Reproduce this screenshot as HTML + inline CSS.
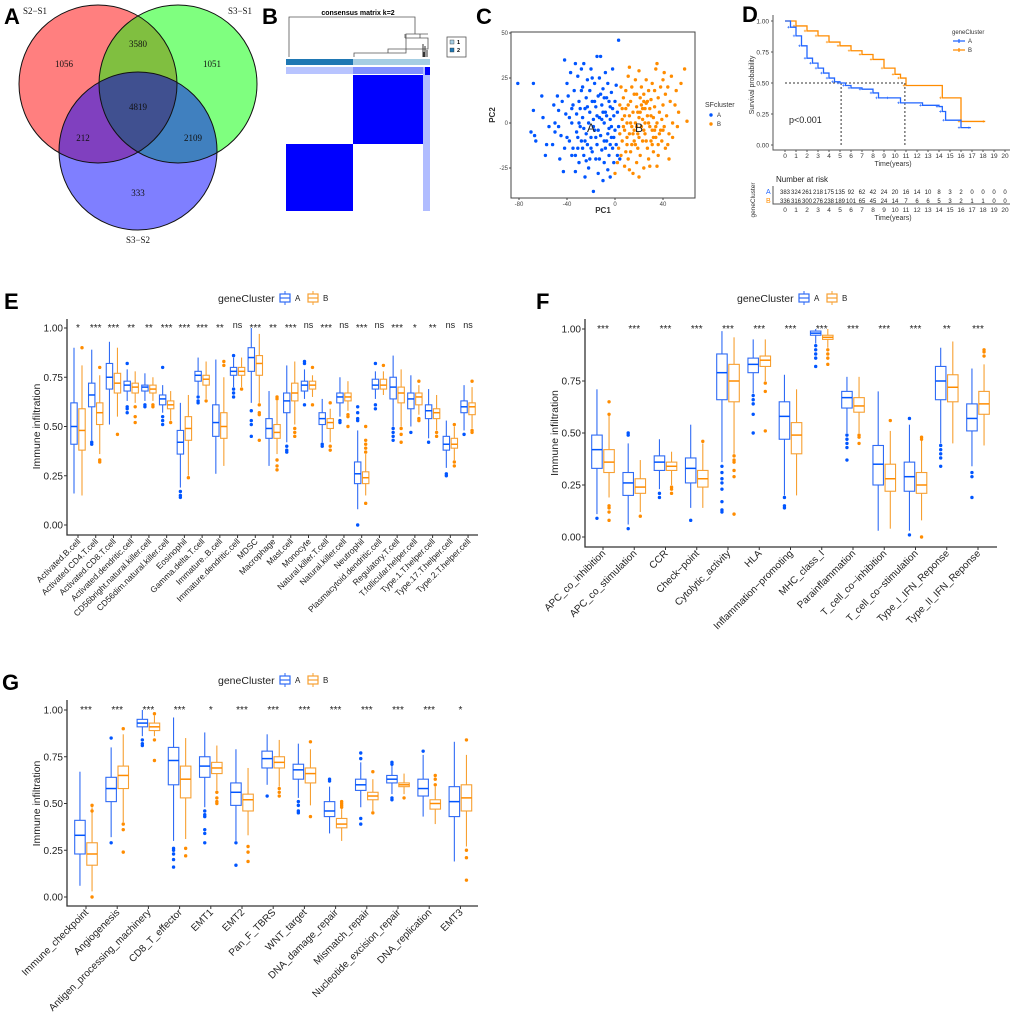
<!DOCTYPE html>
<html><head><meta charset="utf-8"><style>
html,body{margin:0;padding:0;background:#fff}
svg{display:block;font-family:"Liberation Sans",Arial,sans-serif}
</style></head><body>
<svg id="fig" width="1020" height="1020" viewBox="0 0 1020 1020" xmlns="http://www.w3.org/2000/svg">
<defs>
<clipPath id="cR"><circle cx="98" cy="84" r="79"/></clipPath>
<clipPath id="cG"><circle cx="178" cy="84" r="79"/></clipPath>
</defs>
<g>
<circle cx="98" cy="84" r="79" fill="#ff7f7f"/>
<circle cx="178" cy="84" r="79" fill="#7fff7f"/>
<circle cx="138" cy="151" r="79" fill="#7f7fff"/>
<g clip-path="url(#cR)"><circle cx="178" cy="84" r="79" fill="#80bf40"/>
<circle cx="138" cy="151" r="79" fill="#8040bf"/></g>
<g clip-path="url(#cG)"><circle cx="138" cy="151" r="79" fill="#4080bf"/></g>
<g clip-path="url(#cR)"><g clip-path="url(#cG)"><circle cx="138" cy="151" r="79" fill="#405090"/></g></g>
<circle cx="98" cy="84" r="79" fill="none" stroke="#111" stroke-width="1"/>
<circle cx="178" cy="84" r="79" fill="none" stroke="#111" stroke-width="1"/>
<circle cx="138" cy="151" r="79" fill="none" stroke="#111" stroke-width="1"/>
<g font-family="Liberation Serif,serif" font-size="9" text-anchor="middle" fill="#111">
<text x="35" y="14">S2−S1</text>
<text x="240" y="14">S3−S1</text>
<text x="138" y="243">S3−S2</text>
<text x="64" y="67">1056</text>
<text x="138" y="47">3580</text>
<text x="212" y="67">1051</text>
<text x="138" y="110">4819</text>
<text x="83" y="141">212</text>
<text x="193" y="141">2109</text>
<text x="138" y="196">333</text>
</g>
</g>
<g font-weight="bold" font-size="22" fill="#000">
<text x="4" y="24">A</text>
<text x="262" y="24">B</text>
<text x="476" y="24">C</text>
<text x="742" y="22">D</text>
<text x="4" y="309">E</text>
<text x="536" y="309">F</text>
<text x="2" y="690">G</text>
</g>
<g>
<text x="358" y="15" font-size="7" font-weight="bold" text-anchor="middle">consensus matrix k=2</text>
<path d="M289 57V17H415V34M354 57V53H406V34H428M388 53V49H428V38H405M420 38V34M405 34V38" fill="none" stroke="#555" stroke-width="0.8"/>
<path d="M423 57V44M425 57V46M427 57V50M424 57V52" stroke="#333" stroke-width="1"/>
<rect x="286" y="59" width="67" height="6" fill="#1f78b4"/>
<rect x="353" y="59" width="77" height="6" fill="#a6cee3"/>
<rect x="286" y="67" width="144" height="7" fill="#b8c4ff"/>
<rect x="353" y="67" width="70" height="7" fill="#8090ff"/>
<rect x="353" y="75" width="70" height="69" fill="#0000ff"/>
<rect x="286" y="144" width="67" height="67" fill="#0000ff"/>
<rect x="423" y="67" width="7" height="144" fill="#b0bcff"/>
<rect x="425" y="67" width="5" height="8" fill="#0000ff"/>
<rect x="447" y="37" width="19" height="20" fill="#fff" stroke="#555" stroke-width="0.8"/>
<rect x="450" y="40" width="4" height="4" fill="#a6cee3" stroke="#333" stroke-width="0.4"/>
<text x="457" y="44" font-size="5.5" font-weight="bold">1</text>
<rect x="450" y="48" width="4" height="4" fill="#1f78b4" stroke="#333" stroke-width="0.4"/>
<text x="457" y="52" font-size="5.5" font-weight="bold">2</text>
</g>
<g id="pca"></g>
<g id="km"></g>
<g id="panelE"></g>
<g id="panelF"></g>
<g id="panelG"></g>
</svg>
<script>
const NS="http://www.w3.org/2000/svg";
const CA="#2f6bf5", CB="#f7a032", DA="#0055ff", DB="#ff8c00";
function mk(parent,tag,attrs,txt){const e=document.createElementNS(NS,tag);for(const k in attrs)e.setAttribute(k,attrs[k]);if(txt!==undefined)e.textContent=txt;parent.appendChild(e);return e;}

const pcaA=[[-81,22],[-68,22],[-70,-5],[-68,7],[-67,-7],[-66,-10],[-61,15],[-60,3],[-58,-18],[-57,-12],[-55,-2],[-52,-12],[-51,10],[-50,-5],[-48,15],[-47,-2],[-47,7],[-46,-20],[-44,12],[-43,-27],[-42,35],[-41,5],[-40,-8],[-40,22],[-39,15],[-38,-10],[-37,28],[-36,0],[-36,-18],[-35,10],[-34,18],[-33,33],[-33,-27],[-32,-5],[-32,5],[-31,26],[-31,-14],[-30,-22],[-30,12],[-29,-2],[-28,30],[-28,-10],[-27,20],[-27,3],[-26,33],[-26,-18],[-25,-30],[-25,8],[-24,14],[-24,-6],[-23,24],[-23,-12],[-22,0],[-22,-25],[-21,18],[-21,6],[-20,-8],[-20,30],[-19,-16],[-19,12],[-18,-38],[-18,2],[-17,22],[-17,-4],[-16,-20],[-16,9],[-15,37],[-15,-12],[-14,15],[-14,-28],[-13,3],[-13,25],[-12,-7],[-12,37],[-11,-15],[-11,10],[-10,-32],[-10,19],[-9,0],[-9,-22],[-8,28],[-8,6],[-7,-10],[-7,14],[-6,-26],[-6,22],[-5,-3],[-5,-18],[-4,9],[-4,-30],[-3,17],[-3,-8],[-2,30],[-2,-14],[-1,4],[-1,-22],[0,12],[0,-4],[1,-12],[1,21],[2,-18],[2,6],[3,46],[3,-2],[4,-20],[-45,-7],[-38,3],[-35,-14],[-29,8],[-26,-3],[-23,9],[-20,-14],[-18,-2],[-15,4],[-13,-20],[-11,2],[-9,-10],[-7,4],[-5,12],[-3,-2],[-1,-8],[-33,-18],[-28,18],[-24,-21],[-19,25],[-16,-8],[-12,16],[-8,-14],[-6,-6],[-4,2],[-2,8],[-30,0],[-42,-14],[-50,0],[-36,8],[-25,-10],[-21,-20],[-14,-4],[-10,6],[-17,12],[-27,-14],[-31,-8],[-9,14],[-4,-12]];
const pcaB=[[0,-28],[2,-22],[3,-14],[4,-6],[4,10],[5,20],[5,-18],[6,2],[6,-10],[7,14],[8,-4],[8,-24],[9,8],[9,18],[10,-12],[10,0],[11,-20],[11,26],[12,4],[12,-6],[12,31],[13,-16],[13,12],[14,-2],[14,20],[15,-28],[15,6],[16,-10],[16,16],[17,24],[17,0],[18,-22],[18,9],[19,-6],[19,-14],[20,29],[20,3],[21,14],[21,-18],[22,-2],[22,20],[23,8],[23,-10],[24,-25],[24,16],[25,0],[25,-6],[26,11],[26,24],[27,-14],[27,4],[28,-20],[28,18],[29,-2],[29,8],[30,13],[30,-10],[31,22],[31,-4],[32,3],[32,-16],[33,9],[33,18],[34,-8],[34,30],[35,0],[35,-24],[36,14],[36,-12],[37,6],[38,20],[38,-4],[39,-10],[40,10],[40,24],[41,-2],[42,16],[42,-14],[43,4],[44,20],[45,-6],[45,-20],[46,12],[47,26],[48,0],[48,-8],[50,10],[51,18],[52,-2],[53,6],[55,22],[58,30],[60,1],[14,-12],[19,6],[24,-4],[11,10],[16,-4],[20,-8],[27,12],[30,4],[34,-2],[22,10],[8,4],[13,0],[25,8],[18,16],[31,-12],[37,-6],[28,0],[21,6],[17,-12],[10,-8],[6,8],[15,-6],[23,2],[33,-4],[26,-10],[39,2],[44,-12],[36,-18],[29,-24],[12,-26],[20,-30],[35,33],[41,28],[7,-2],[18,-2],[24,12],[32,-8],[40,-4],[9,-16]];
const pcaXTicks=[-80,-40,0,40];
const pcaYTicks=[-25,0,25,50];

const kmTimeA=[0,0.5,1,1.5,2,2.5,3,3.5,4,4.5,5,5.5,6,7,8,8.5,9.5,10.5,12.5,14,14.3,14.6,16,16.9];
const kmSurvA=[1,0.95,0.88,0.8,0.7,0.66,0.62,0.58,0.54,0.51,0.5,0.48,0.46,0.45,0.42,0.38,0.38,0.34,0.32,0.31,0.27,0.2,0.14,0.14];
const kmTimeB=[0,1,2,3,4,5,6,7,8,9,10,10.5,11,14.3,16,18.2];
const kmSurvB=[1,0.96,0.92,0.88,0.83,0.8,0.76,0.73,0.69,0.62,0.57,0.54,0.48,0.38,0.19,0.19];
const riskA=[383,324,261,218,175,135,92,62,42,24,20,16,14,10,8,3,2,0,0,0,0];
const riskB=[336,316,300,276,238,189,101,65,45,24,14,7,6,6,5,3,2,1,1,0,0];
const kmYTicks=[0,0.25,0.5,0.75,1];

const eCats=["Activated.B.cell","Activated.CD4.T.cell","Activated.CD8.T.cell","Activated.dendritic.cell","CD56bright.natural.killer.cell","CD56dim.natural.killer.cell","Eosinophil","Gamma.delta.T.cell","Immature..B.cell","Immature.dendritic.cell","MDSC","Macrophage","Mast.cell","Monocyte","Natural.killer.T.cell","Natural.killer.cell","Neutrophil","Plasmacytoid.dendritic.cell","Regulatory.T.cell","T.follicular.helper.cell","Type.1.T.helper.cell","Type.17.T.helper.cell","Type.2.T.helper.cell"];
const eSig=["*","***","***","**","**","***","***","***","**","ns","***","**","***","ns","***","ns","***","ns","***","*","**","ns","ns"];
const eStatsA=[[.16,.41,.50,.62,.90],[.43,.60,.66,.72,.89],[.51,.69,.75,.82,.93],[.63,.68,.71,.73,.79],[.63,.68,.70,.71,.77],[.57,.61,.64,.66,.71],[.19,.36,.42,.48,.62],[.66,.73,.76,.78,.85],[.26,.45,.52,.61,.84],[.70,.76,.78,.80,.85],[.62,.78,.85,.90,1.0],[.30,.44,.49,.54,.68],[.42,.57,.63,.67,.81],[.64,.68,.71,.73,.79],[.42,.51,.54,.57,.64],[.55,.62,.65,.67,.75],[.08,.21,.26,.32,.48],[.64,.69,.71,.74,.78],[.50,.64,.70,.75,.86],[.50,.59,.64,.67,.76],[.44,.54,.58,.61,.69],[.29,.38,.41,.45,.53],[.48,.57,.60,.63,.71]];
const eStatsB=[[.15,.38,.48,.59,.81],[.36,.51,.57,.62,.76],[.55,.67,.72,.77,.90],[.62,.67,.70,.72,.78],[.63,.67,.69,.71,.75],[.53,.59,.61,.63,.68],[.25,.43,.49,.55,.66],[.64,.71,.74,.76,.83],[.30,.44,.50,.57,.75],[.70,.76,.78,.80,.85],[.62,.76,.82,.86,.97],[.36,.44,.47,.51,.63],[.51,.63,.67,.72,.83],[.65,.69,.71,.73,.76],[.42,.49,.52,.54,.59],[.58,.63,.65,.67,.73],[.15,.21,.24,.27,.36],[.66,.69,.71,.74,.78],[.50,.62,.67,.70,.79],[.56,.61,.65,.67,.71],[.48,.54,.57,.59,.66],[.33,.39,.41,.44,.50],[.49,.56,.60,.62,.70]];
const eOutA=[[],[.41,.42],[],[.82,.60,.59,.57],[.61,.60],[.80,.55,.53,.51],[.17,.15,.14],[.65,.63,.62],[],[.86,.69,.67,.65],[.58,.53,.51,.45],[],[.40,.38,.37],[.83,.82,.61],[.41,.40],[.53,.52],[.60,.57,.54,.53,0],[.82,.61,.59],[.49,.47,.45,.43],[.47],[.42],[.26,.25],[.46]];
const eOutB=[[.90],[.80,.33,.32],[.46],[.60,.55,.52],[.61,.60],[.52],[.24],[.63],[.83,.81],[.69],[.61,.57,.56,.43],[.65,.64,.33,.30,.28],[.49,.47,.45],[.80,.61],[.62,.40,.38],[.56,.55,.50],[.50,.43,.41,.39,.37,.11],[.81],[.49,.46,.42],[.73,.54,.53],[.47,.45],[.51,.32,.30],[.73,.48,.47]];

const fCats=["APC_co_inhibition","APC_co_stimulation","CCR","Check−point","Cytolytic_activity","HLA","Inflammation−promoting","MHC_class_I","Parainflammation","T_cell_co−inhibition","T_cell_co−stimulation","Type_I_IFN_Reponse","Type_II_IFN_Reponse"];
const fSig=["***","***","***","***","***","***","***","***","***","***","***","**","***"];
const fStatsA=[[.11,.33,.42,.49,.71],[.06,.20,.26,.31,.45],[.23,.32,.36,.39,.47],[.14,.26,.33,.38,.54],[.36,.66,.79,.88,.99],[.69,.79,.83,.86,.95],[.20,.47,.58,.65,.78],[.93,.97,.98,.99,1.0],[.50,.62,.67,.70,.77],[.03,.25,.35,.44,.70],[.03,.22,.29,.36,.54],[.45,.66,.75,.82,.91],[.34,.51,.57,.64,.81]];
const fStatsB=[[.19,.31,.36,.42,.59],[.12,.21,.24,.28,.37],[.25,.32,.34,.36,.41],[.14,.24,.28,.32,.45],[.40,.65,.75,.83,.96],[.75,.82,.85,.87,.95],[.20,.40,.49,.55,.71],[.91,.95,.96,.97,1.0],[.50,.60,.63,.67,.77],[.04,.22,.28,.35,.51],[.08,.21,.25,.31,.47],[.45,.65,.72,.78,.94],[.44,.59,.64,.70,.83]];
const fOutA=[[.09],[.50,.49,.04],[.21,.19],[.08],[.34,.31,.28,.26,.23,.17,.13,.12],[.68,.66,.64,.59,.50],[.19,.15,.14],[.92,.90,.88,.86,.82],[.49,.47,.45,.43,.37],[],[.57,.01],[.44,.42,.40,.38,.34],[.31,.29,.19]];
const fOutB=[[.65,.59,.15,.14,.12,.08],[.10],[.24,.23,.21],[.46],[.39,.37,.36,.32,.29,.11],[.74,.70,.51],[],[.90,.88,.86,.83],[.49,.48,.45],[.56],[.48,.47,0],[],[.90,.89,.87]];

const gCats=["Immune_checkpoint","Angiogenesis","Antigen_processing_machinery","CD8_T_effector","EMT1","EMT2","Pan_F_TBRS","WNT_target","DNA_damage_repair","Mismatch_repair","Nucleotide_excision_repair","DNA_replication","EMT3"];
const gSig=["***","***","***","***","*","***","***","***","***","***","***","***","*"];
const gStatsA=[[.06,.23,.33,.41,.67],[.32,.51,.58,.64,.80],[.86,.91,.93,.95,1.0],[.30,.60,.73,.80,.96],[.48,.64,.70,.75,.88],[.30,.49,.56,.61,.79],[.60,.69,.74,.78,.87],[.53,.63,.68,.71,.82],[.34,.43,.46,.51,.59],[.48,.57,.60,.63,.72],[.55,.61,.63,.65,.71],[.43,.54,.58,.63,.76],[.19,.43,.51,.59,.83]];
const gStatsB=[[.03,.17,.23,.29,.48],[.40,.58,.65,.70,.87],[.86,.89,.91,.93,.97],[.31,.53,.63,.70,.85],[.57,.66,.69,.72,.81],[.33,.46,.52,.55,.69],[.59,.69,.72,.75,.84],[.49,.61,.66,.69,.79],[.30,.37,.39,.42,.47],[.46,.52,.54,.56,.63],[.55,.59,.60,.61,.66],[.39,.47,.50,.52,.59],[.27,.46,.53,.60,.76]];
const gOutA=[[],[.85,.29],[.84,.82,.81],[.26,.25,.23,.20,.16],[.46,.44,.43,.36,.34,.29],[.29,.17],[.54],[.51,.49,.46,.45],[.63,.62],[.77,.74,.42,.39],[.72,.71,.53,.52],[.78],[]];
const gOutB=[[.49,.46,0],[.90,.39,.36,.24],[.98,.84,.73],[.26,.22],[.56,.53,.51,.50],[.27,.24,.19],[.58,.56,.54],[.83,.43],[.51,.50,.49,.48],[.67,.45],[.53],[.65,.63,.60],[.84,.25,.21,.09]];
const boxYTicks=[0,0.25,0.5,0.75,1];

(function(){
  const g=document.getElementById('pca');
  const L=511,R=695,T=32,B=198;
  const sx=v=>615+v*1.2, sy=v=>123-v*1.8;
  const fr=mk(g,'rect',{x:L,y:T,width:R-L,height:B-T,fill:'#fff',stroke:'#444','stroke-width':1});
  
  
  pcaXTicks.forEach(v=>{mk(g,'line',{x1:sx(v),x2:sx(v),y1:B,y2:B+2,stroke:'#444'});
    const t=mk(g,'text',{x:sx(v),y:B+8,'font-size':6,'text-anchor':'middle',fill:'#444'},String(v));
    
    });
  pcaYTicks.forEach(v=>{mk(g,'line',{x1:L-2,x2:L,y1:sy(v),y2:sy(v),stroke:'#444'});
    const t=mk(g,'text',{x:L-3,y:sy(v)+2,'font-size':6,'text-anchor':'end',fill:'#444'},String(v));
    
    });
  const xt=mk(g,'text',{x:603,y:213,'font-size':8,'font-weight':'bold','text-anchor':'middle',fill:'#333'},'PC1');
  
  
  const yt=mk(g,'text',{x:0,y:0,'font-size':8,'font-weight':'bold','text-anchor':'middle',fill:'#333',transform:'translate(495,115) rotate(-90)'},'PC2');
  
  
  pcaA.forEach(p=>{const c=mk(g,'circle',{cx:sx(p[0]),cy:sy(p[1]),r:1.7,fill:DA});
    
    });
  pcaB.forEach(p=>{const c=mk(g,'circle',{cx:sx(p[0]),cy:sy(p[1]),r:1.7,fill:DB});
    
    });
  const la=mk(g,'text',{x:sx(-20),y:sy(-5),'font-size':12,'text-anchor':'middle',fill:'#222'},'A');
  
  
  const lb=mk(g,'text',{x:sx(20),y:sy(-5),'font-size':12,'text-anchor':'middle',fill:'#222'},'B');
  
  
  const lt=mk(g,'text',{x:705,y:107,'font-size':7,fill:'#333'},'SFcluster');
  
  
  [['A',DA,115],['B',DB,124]].forEach(e=>{mk(g,'circle',{cx:711,cy:e[2],r:1.7,fill:e[1]});
    const t=mk(g,'text',{x:717,y:e[2]+2,'font-size':6,fill:'#333'},e[0]);
    
    });
})();

(function(){
  const g=document.getElementById('km');
  const sx=t=>785+t*11, sy=v=>145-v*124;
  mk(g,'path',{d:'M773 15V150H1010',fill:'none',stroke:'#555','stroke-width':1});
  kmYTicks.forEach(v=>{mk(g,'line',{x1:771,x2:773,y1:sy(v),y2:sy(v),stroke:'#555'});
    const t=mk(g,'text',{x:769,y:sy(v)+2.3,'font-size':6.5,'text-anchor':'end',fill:'#333'},v.toFixed(2));
    
    });
  for(let i=0;i<=20;i++){mk(g,'line',{x1:sx(i),x2:sx(i),y1:150,y2:152,stroke:'#555'});
    const t=mk(g,'text',{x:sx(i),y:158,'font-size':6.5,'text-anchor':'middle',fill:'#333'},String(i));
    
    }
  const xt=mk(g,'text',{x:893,y:166,'font-size':7,'text-anchor':'middle',fill:'#333'},'Time(years)');
  
  
  const yt=mk(g,'text',{x:0,y:0,'font-size':7,'text-anchor':'middle',fill:'#333',transform:'translate(754,85) rotate(-90)'},'Survival probability');
  
  
  mk(g,'path',{d:`M${sx(0)} ${sy(.5)}H${sx(10.9)}M${sx(5.1)} ${sy(.5)}V${sy(0)}M${sx(10.9)} ${sy(.5)}V${sy(0)}`,stroke:'#333','stroke-dasharray':'2,2',fill:'none'});
  function step(ts,vs,col,name){let d=`M${sx(ts[0])} ${sy(vs[0])}`;
    for(let i=1;i<ts.length;i++){d+=`H${sx(ts[i])}V${sy(vs[i])}`;}
    const p=mk(g,'path',{d:d,fill:'none',stroke:col,'stroke-width':1.3});
    
    
    for(let i=1;i<ts.length;i++){const x=sx(ts[i])-2,y=sy(vs[i]);mk(g,'path',{d:`M${x-1.2} ${y}h2.4M${x} ${y-1.2}v2.4`,stroke:col,'stroke-width':0.6});}
  }
  step(kmTimeB,kmSurvB,DB,'km-curve-b');
  step(kmTimeA,kmSurvA,'#2266ff','km-curve-a');
  const pv=mk(g,'text',{x:789,y:123,'font-size':9,fill:'#222'},'p<0.001');
  
  
  const lg=mk(g,'text',{x:952,y:34,'font-size':6,fill:'#333'},'geneCluster');
  
  
  [['A','#2266ff',41],['B',DB,50]].forEach(e=>{mk(g,'path',{d:`M953 ${e[2]}h12M959 ${e[2]-2}v4`,stroke:e[1],'stroke-width':1.2});
    const t=mk(g,'text',{x:968,y:e[2]+2,'font-size':6,fill:'#333'},e[0]);
    
    });
  const nr=mk(g,'text',{x:776,y:182,'font-size':8,fill:'#222'},'Number at risk');
  
  
  const gc=mk(g,'text',{x:0,y:0,'font-size':6.5,'text-anchor':'middle',fill:'#333',transform:'translate(755,200) rotate(-90)'},'geneCluster');
  
  
  mk(g,'text',{x:766,y:194,'font-size':7,fill:'#2266ff'},'A');
  mk(g,'text',{x:766,y:203,'font-size':7,fill:DB},'B');
  mk(g,'path',{d:'M773 186V204H1010',fill:'none',stroke:'#555'});
  riskA.forEach((v,i)=>{const t=mk(g,'text',{x:sx(i),y:194,'font-size':6,'text-anchor':'middle',fill:'#222'},String(v));
    
    });
  riskB.forEach((v,i)=>{const t=mk(g,'text',{x:sx(i),y:203,'font-size':6,'text-anchor':'middle',fill:'#222'},String(v));
    
    });
  for(let i=0;i<=20;i++){const t=mk(g,'text',{x:sx(i),y:212,'font-size':6.5,'text-anchor':'middle',fill:'#333'},String(i));
    
    }
  const t2=mk(g,'text',{x:893,y:220,'font-size':7,'text-anchor':'middle',fill:'#333'},'Time(years)');
  
  
})();

function boxPanel(id,cats,sig,SA,SB,OA,OB,p){
  const g=document.getElementById(id);
  const sy=v=>p.y0-(p.y0-p.y1)*v;
  const ax=mk(g,'path',{d:`M${p.left} ${p.top}V${p.bottom}H${p.right}`,fill:'none',stroke:'#333','stroke-width':1.3});
  
  
  boxYTicks.forEach(v=>{mk(g,'line',{x1:p.left-3,x2:p.left,y1:sy(v),y2:sy(v),stroke:'#333'});
    const t=mk(g,'text',{x:p.left-4,y:sy(v)+3.5,'font-size':10,'text-anchor':'end',fill:'#222'},v.toFixed(2));
    
    });
  const yt=mk(g,'text',{x:0,y:0,'font-size':10.5,'text-anchor':'middle',fill:'#222',transform:`translate(${p.ytx},${(p.y0+p.y1)/2}) rotate(-90)`},'Immune infiltration');
  
  
  const lx=p.legx, ly=p.legy;
  const lt=mk(g,'text',{x:lx,y:ly+4,'font-size':10.5,fill:'#222'},'geneCluster');
  
  
  [['A',CA,lx+62],['B',CB,lx+90]].forEach(e=>{
    mk(g,'path',{d:`M${e[2]+5} ${ly-7}V${ly+7}`,stroke:e[1]});
    mk(g,'rect',{x:e[2],y:ly-4,width:10,height:8,fill:'#fff',stroke:e[1],'stroke-width':1.2});
    mk(g,'line',{x1:e[2],x2:e[2]+10,y1:ly,y2:ly,stroke:e[1],'stroke-width':1.2});
    const t=mk(g,'text',{x:e[2]+15,y:ly+3,'font-size':8,fill:'#222'},e[0]);
    
    });
  cats.forEach((c,i)=>{
    const cx=p.x0+i*p.dx;
    mk(g,'line',{x1:cx,x2:cx,y1:p.bottom,y2:p.bottom+3,stroke:'#333'});
    const t=mk(g,'text',{x:0,y:0,'font-size':p.fs,'text-anchor':'end',fill:'#222',transform:`translate(${cx+3},${p.bottom+7}) rotate(-45)`},c);
    
    
    const s=mk(g,'text',{x:cx,y:sy(1)+(sig[i]==='ns'?0:3),'font-size':sig[i]==='ns'?9:10,'text-anchor':'middle',fill:'#222'},sig[i]);
    
    
    [[SA[i],OA[i],cx-p.bw/2-0.3,CA,DA,'a'],[SB[i],OB[i],cx+p.bw/2+0.3,CB,DB,'b']].forEach(b=>{
      const st=b[0],bx=b[2],w=p.bw-1;
      const wh=mk(g,'line',{x1:bx,x2:bx,y1:sy(st[0]),y2:sy(st[4]),stroke:b[3],'stroke-width':1.1});
      
      
      const r=mk(g,'rect',{x:bx-w/2,y:sy(st[3]),width:w,height:sy(st[1])-sy(st[3]),fill:'#fff',stroke:b[3],'stroke-width':1.1});
      
      
      const m=mk(g,'line',{x1:bx-w/2,x2:bx+w/2,y1:sy(st[2]),y2:sy(st[2]),stroke:b[4],'stroke-width':1.5});
      
      
      b[1].forEach(o=>{const d=mk(g,'circle',{cx:bx,cy:sy(o),r:1.7,fill:b[4]});
        
        });
    });
  });
}
boxPanel('panelE',eCats,eSig,eStatsA,eStatsB,eOutA,eOutB,{left:67,right:478,top:319,bottom:535,y1:328,y0:525,x0:78,dx:17.73,bw:7.4,fs:8.5,ytx:40,legx:218,legy:298});
boxPanel('panelF',fCats,fSig,fStatsA,fStatsB,fOutA,fOutB,{left:585,right:997,top:319,bottom:547,y1:329,y0:537,x0:603,dx:31.25,bw:11.5,fs:10,ytx:558,legx:737,legy:298});
boxPanel('panelG',gCats,gSig,gStatsA,gStatsB,gOutA,gOutB,{left:67,right:478,top:700,bottom:906,y1:710,y0:897,x0:86,dx:31.2,bw:11.5,fs:10,ytx:40,legx:218,legy:680});
</script>
</body></html>
